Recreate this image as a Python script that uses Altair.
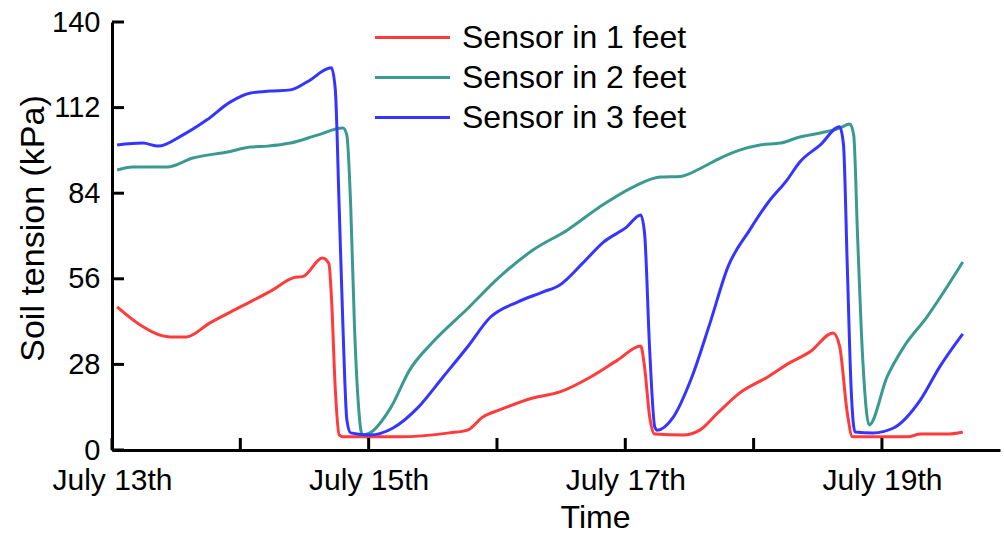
import altair as alt
import pandas as pd

# ---- data (day offset from July 13th, kPa) ----
red_day = [0.04, 0.22, 0.45, 0.58, 0.76, 1.00, 1.25, 1.41, 1.49, 1.64, 1.69, 1.71, 1.74, 1.77, 1.80,
           2.24, 2.63, 2.77, 2.89, 3.02, 3.28, 3.49, 3.73, 3.94, 4.12, 4.15, 4.19, 4.23, 4.45, 4.58,
           4.72, 4.89, 5.11, 5.28, 5.44, 5.62, 5.67, 5.73, 5.77, 6.20, 6.30, 6.51, 6.63]
red_kpa = [46.8, 40.9, 37.0, 37.0, 41.5, 46.8, 52.3, 56.3, 56.8, 62.8, 61.0, 50.0, 20.0, 5.0, 4.3,
           4.3, 5.6, 6.5, 10.8, 13.1, 17.0, 19.0, 23.9, 29.4, 34.0, 27.2, 10.8, 5.2, 4.9, 6.5,
           12.1, 18.6, 23.9, 28.5, 32.1, 38.3, 34.0, 12.1, 4.3, 4.3, 5.2, 5.2, 5.9]

teal_day = [0.04, 0.16, 0.43, 0.63, 0.90, 1.08, 1.21, 1.39, 1.60, 1.80, 1.83, 1.86, 1.89, 1.92, 1.95,
            2.01, 2.17, 2.32, 2.50, 2.77, 3.02, 3.28, 3.55, 3.80, 4.06, 4.27, 4.43, 4.58, 4.74, 4.89,
            5.05, 5.21, 5.36, 5.52, 5.67, 5.75, 5.78, 5.81, 5.85, 5.90, 6.04, 6.17, 6.35, 6.63]
teal_kpa = [91.6, 92.6, 92.6, 95.5, 97.5, 99.1, 99.4, 100.4, 103.0, 105.3, 103.0, 80.0, 40.0, 15.0, 4.9,
            5.6, 13.7, 26.2, 35.3, 46.2, 56.6, 65.4, 72.0, 79.5, 86.0, 89.3, 89.5, 92.0, 95.5, 98.1,
            99.8, 100.4, 102.4, 103.7, 105.3, 106.6, 103.0, 70.0, 30.0, 8.2, 23.9, 33.7, 43.5, 61.5]

blue_day = [0.04, 0.24, 0.36, 0.55, 0.74, 0.92, 1.08, 1.23, 1.39, 1.52, 1.71, 1.74, 1.77, 1.80, 1.83,
            1.86, 2.01, 2.19, 2.38, 2.58, 2.77, 2.95, 3.16, 3.36, 3.49, 3.67, 3.83, 4.01, 4.12, 4.15,
            4.19, 4.23, 4.25, 4.37, 4.51, 4.66, 4.80, 4.97, 5.11, 5.26, 5.36, 5.52, 5.67, 5.70, 5.73,
            5.76, 5.79, 5.93, 6.09, 6.30, 6.45, 6.63]
blue_kpa = [99.8, 100.4, 99.4, 103.0, 108.0, 113.8, 116.8, 117.4, 117.8, 120.4, 125.0, 118.0, 80.0, 40.0, 10.0,
            5.6, 4.9, 7.2, 13.7, 23.9, 33.7, 43.5, 48.4, 51.7, 54.0, 61.2, 68.0, 72.9, 76.9, 71.0,
            32.7, 7.5, 6.5, 10.5, 22.9, 41.5, 59.9, 72.0, 80.8, 88.3, 94.2, 99.8, 105.7, 100.0, 60.0,
            20.0, 5.9, 5.6, 7.2, 16.4, 27.2, 38.0]

series_names = ["Sensor in 1 feet", "Sensor in 2 feet", "Sensor in 3 feet"]
series_colors = ["#FF3B3B", "#3A9A92", "#3535FF"]
y_ticks = [0, 28, 56, 84, 112, 140]
x_tick_days = [0, 1, 2, 3, 4, 5, 6]
x_label_days = [0, 2, 4, 6]
x_max = 6.92

frames = []
for name, d, v in zip(series_names, [red_day, teal_day, blue_day], [red_kpa, teal_kpa, blue_kpa]):
    frames.append(pd.DataFrame({"day": d, "kpa": v, "series": name}))
df = pd.concat(frames, ignore_index=True)

W, H = 888, 428
FONT = "Liberation Sans"

xscale = alt.Scale(domain=[0, x_max], nice=False, zero=False)
yscale = alt.Scale(domain=[0, 140], nice=False)

x_axis = alt.Axis(values=x_label_days,
                  labelExpr="'July ' + (13 + datum.value) + 'th'",
                  title="Time", ticks=False, grid=False, labelFlush=False,
                  domainColor="black", domainWidth=3,
                  labelFont=FONT, titleFont=FONT,
                  labelFontSize=30, titleFontSize=32,
                  labelColor="black", titleColor="black",
                  titleFontWeight="normal",
                  labelPadding=15,
                  titleX=483, titleY=77, titleBaseline="alphabetic")
y_axis = alt.Axis(values=y_ticks, title="Soil tension (kPa)",
                  ticks=False, grid=False, labelFlush=False,
                  domainColor="black", domainWidth=3,
                  labelFont=FONT, titleFont=FONT,
                  labelFontSize=29, titleFontSize=34,
                  labelColor="black", titleColor="black",
                  titleFontWeight="normal",
                  labelPadding=12,
                  titleX=-79, titleY=206, titleBaseline="middle")

# legend line: a custom path 75 px long on a 40 px symbol slot
lines = alt.Chart(df).mark_line(strokeWidth=3, interpolate="monotone").encode(
    x=alt.X("day:Q", scale=xscale, axis=x_axis),
    y=alt.Y("kpa:Q", scale=yscale, axis=y_axis),
    color=alt.Color("series:N",
                    scale=alt.Scale(domain=series_names, range=series_colors),
                    legend=alt.Legend(title=None, orient="none", legendX=279, legendY=-6,
                                      symbolType="M-1.875,0H1.875", symbolSize=1600,
                                      symbolStrokeWidth=3, labelFont=FONT,
                                      labelFontSize=32, labelColor="black",
                                      labelLimit=400, rowPadding=2, labelOffset=28)),
)

xticks = alt.Chart(pd.DataFrame({"day": x_tick_days})).mark_rule(
    color="black", strokeWidth=3).encode(
    x=alt.X("day:Q", scale=xscale, axis=x_axis),
    y=alt.value(H), y2=alt.value(H - 12))

yticks = alt.Chart(pd.DataFrame({"kpa": y_ticks})).mark_rule(
    color="black", strokeWidth=3).encode(
    y=alt.Y("kpa:Q", scale=yscale, axis=y_axis),
    x=alt.value(0), x2=alt.value(12))

chart = alt.layer(lines, xticks, yticks).properties(
    width=W, height=H,
    autosize=alt.AutoSizeParams(type="none"),
    padding={"left": 112, "top": 22, "right": 4, "bottom": 83},
    background="white",
).configure_view(stroke=None)

chart.save("out.html", embed_options={"renderer": "svg", "actions": False})
